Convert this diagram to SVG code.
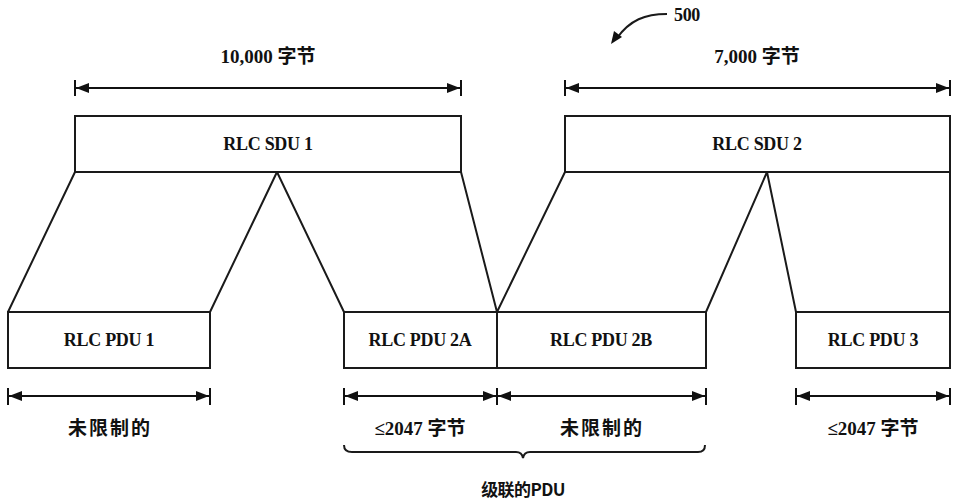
<svg xmlns="http://www.w3.org/2000/svg" width="975" height="502" viewBox="0 0 975 502">
<style>
.box{fill:#fff;stroke:#1a1a1a;stroke-width:2}
.ln{fill:none;stroke:#1a1a1a;stroke-width:2}
.dim{fill:none;stroke:#111;stroke-width:2}
.lbl{font-family:'Liberation Serif',serif;font-weight:bold;font-size:18px;fill:#111;text-anchor:middle;letter-spacing:-0.3px}
.cjk{font-family:'Liberation Serif','Noto Sans CJK SC',serif;font-weight:bold;font-size:19px;fill:#111;text-anchor:middle}
.sp{letter-spacing:2px}
</style>
<defs>
<marker id="ah" markerWidth="13" markerHeight="10" refX="13" refY="5" orient="auto-start-reverse" markerUnits="userSpaceOnUse">
<path d="M0,0 L13,5 L0,10 Z" fill="#111"/>
</marker>
</defs>
<g id="connectors">
<path class="ln" d="M75,172 L8,312 M277,172 L210,312 M277,172 L344,312 M461,172 L497,312 M565,172 L497,312 M767,172 L706,312 M767,172 L796,312 M950,172 L950,312"/>
</g>
<g id="sdu1"><rect class="box" x="75" y="116" width="386" height="56"/><text class="lbl" x="268" y="150">RLC SDU 1</text></g>
<g id="sdu2"><rect class="box" x="565" y="116" width="385" height="56"/><text class="lbl" x="757" y="150">RLC SDU 2</text></g>
<g id="pdu1"><rect class="box" x="8" y="312" width="202" height="56"/><text class="lbl" x="109" y="346">RLC PDU 1</text></g>
<g id="pdu2a"><rect class="box" x="344" y="312" width="153" height="56"/><text class="lbl" x="420" y="346">RLC PDU 2A</text></g>
<g id="pdu2b"><rect class="box" x="497" y="312" width="209" height="56"/><text class="lbl" x="601" y="346">RLC PDU 2B</text></g>
<g id="pdu3"><rect class="box" x="796" y="312" width="154" height="56"/><text class="lbl" x="873" y="346">RLC PDU 3</text></g>
<g id="dims">
<path class="dim" d="M75,80 V96 M461,80 V96 M565,80 V96 M950,80 V96"/>
<line class="dim" x1="76" y1="88" x2="460" y2="88" marker-start="url(#ah)" marker-end="url(#ah)"/>
<line class="dim" x1="566" y1="88" x2="949" y2="88" marker-start="url(#ah)" marker-end="url(#ah)"/>
<text class="cjk" x="268" y="63">10,000 字节</text>
<text class="cjk" x="757" y="63">7,000 字节</text>
<path class="dim" d="M8,388 V405 M210,388 V405 M344,388 V405 M497,388 V405 M706,388 V405 M796,388 V405 M950,388 V405"/>
<line class="dim" x1="9" y1="396" x2="209" y2="396" marker-start="url(#ah)" marker-end="url(#ah)"/>
<line class="dim" x1="345" y1="396" x2="496" y2="396" marker-start="url(#ah)" marker-end="url(#ah)"/>
<line class="dim" x1="498" y1="396" x2="705" y2="396" marker-start="url(#ah)" marker-end="url(#ah)"/>
<line class="dim" x1="797" y1="396" x2="949" y2="396" marker-start="url(#ah)" marker-end="url(#ah)"/>
<text class="cjk sp" x="110" y="435">未限制的</text>
<text class="cjk" x="420" y="435">≤2047 字节</text>
<text class="cjk sp" x="602" y="435">未限制的</text>
<text class="cjk" x="873" y="435">≤2047 字节</text>
</g>
<g id="brace">
<path class="ln" stroke-width="1.5" d="M344,445 Q344,452 352,452 L516,452 Q522,452 523,458 Q524,452 530,452 L698,452 Q705,452 705,445"/>
<text x="523" y="496" style="font-family:'Noto Sans CJK SC','Liberation Sans',sans-serif;font-weight:bold;font-size:17px;fill:#111;text-anchor:middle;letter-spacing:-0.6px">级联的PDU</text>
</g>
<g id="ref500">
<path class="ln" d="M667,14 C645,14 630,20 617,38"/>
<path d="M611,44 L614,31 L622,37 Z" fill="#111"/>
<text class="lbl" x="687" y="21">500</text>
</g>
</svg>
